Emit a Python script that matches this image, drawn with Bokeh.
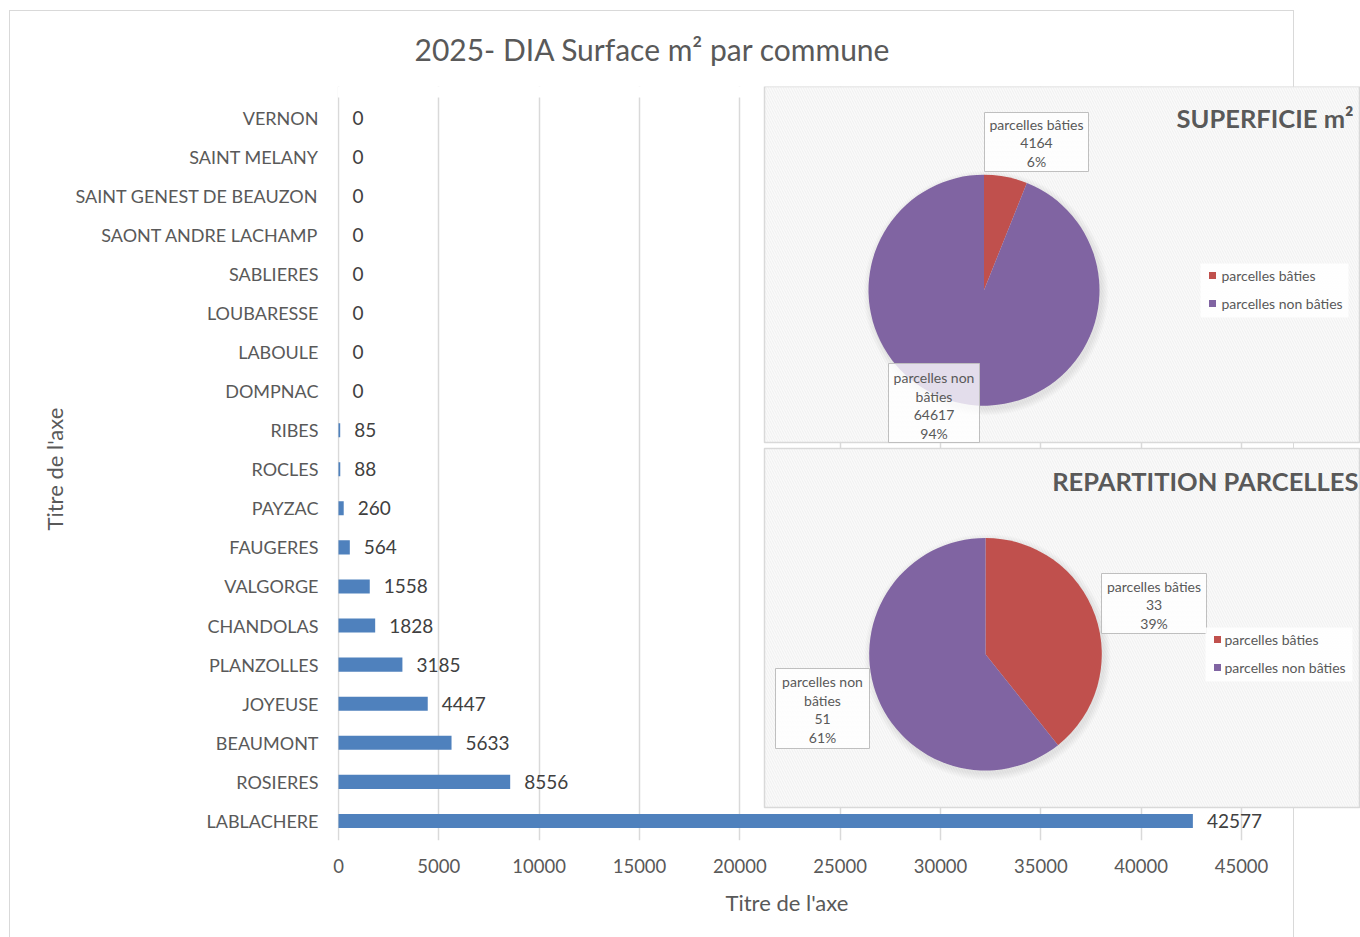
import math
import textwrap
from bokeh.plotting import figure
from bokeh.models import Range1d, FixedTicker, Label, BoxAnnotation, Title, InlineStyleSheet
from bokeh.core.properties import value
from bokeh.embed import file_html
from bokeh.resources import INLINE

# ---------------- data ----------------
communes = ["LABLACHERE", "ROSIERES", "BEAUMONT", "JOYEUSE", "PLANZOLLES",
            "CHANDOLAS", "VALGORGE", "FAUGERES", "PAYZAC", "ROCLES", "RIBES",
            "DOMPNAC", "LABOULE", "LOUBARESSE", "SABLIERES",
            "SAONT ANDRE LACHAMP", "SAINT GENEST DE BEAUZON", "SAINT MELANY",
            "VERNON"]
surfaces = [42577, 8556, 5633, 4447, 3185, 1828, 1558, 564, 260, 88, 85,
            0, 0, 0, 0, 0, 0, 0, 0]
x_ticks = [0, 5000, 10000, 15000, 20000, 25000, 30000, 35000, 40000, 45000]

chart_title = "2025- DIA Surface m² par commune"
axis_title = "Titre de l'axe"

pie_labels = ["parcelles bâties", "parcelles non bâties"]
superficie_values = [4164, 64617]
repartition_values = [33, 51]
superficie_title = "SUPERFICIE m²"
repartition_title = "REPARTITION PARCELLES"

# ---------------- style / layout ----------------
FONT = "Lato"
GREY = "#595959"
BAR_COLOR = "#4f81bd"
PIE_COLORS = ["#c0504d", "#8064a2"]
GRID_COLOR = "#d9d9d9"

W, H = 1360, 937
F_LEFT, F_RIGHT, F_TOP, F_BOTTOM = 337, 1360, 86, 840   # frame in page px
PLOT_TOP = 97                                          # top of gridlines
ZERO_X = 338
PX_PER_UNIT = 903 / 45000
BAND = 39.08

x_start = -(ZERO_X - F_LEFT) / PX_PER_UNIT
x_end = x_start + (F_RIGHT - F_LEFT) / PX_PER_UNIT
y_start = -0.5
y_end = y_start + (F_BOTTOM - F_TOP) / BAND

p = figure(width=W, height=H, output_backend="svg", toolbar_location=None,
           x_range=Range1d(x_start, x_end), y_range=Range1d(y_start, y_end),
           min_border_left=F_LEFT, min_border_right=W - F_RIGHT,
           min_border_top=F_TOP, min_border_bottom=H - F_BOTTOM)
p.outline_line_color = None
p.background_fill_color = None
p.border_fill_color = None
# decorative outer chart border, drawn behind the (transparent) canvas
p.stylesheets = [InlineStyleSheet(css="""
:host::before {
  content: ""; position: absolute; left: 9px; top: 10px;
  width: 1285px; height: 927px; box-sizing: border-box;
  border: 1.5px solid #d9d9d9; border-bottom: none;
  z-index: -1; pointer-events: none;
}
""")]

# page-pixel helper ranges for decorations
p.extra_x_ranges = {"px": Range1d(F_LEFT, F_RIGHT)}
p.extra_y_ranges = {"py": Range1d(F_BOTTOM, F_TOP)}
R = dict(x_range_name="px", y_range_name="py")

# chart title
p.title.text = chart_title
p.title.align = "left"
p.title.offset = 77
p.title.standoff = 40
p.title.text_font = FONT
p.title.text_font_size = "30px"
p.title.text_font_style = "normal"
p.title.text_color = GREY

# axes
idx = list(range(len(communes)))
p.yaxis.ticker = FixedTicker(ticks=idx)
p.yaxis.major_label_overrides = {i: c for i, c in zip(idx, communes)}
p.yaxis.axis_line_color = None
p.yaxis.major_tick_line_color = None
p.yaxis.minor_tick_line_color = None
p.yaxis.major_tick_out = 0
p.yaxis.major_label_standoff = 19
p.yaxis.major_label_text_font = FONT
p.yaxis.major_label_text_font_size = "18px"
p.yaxis.major_label_text_color = GREY

p.xaxis.ticker = FixedTicker(ticks=x_ticks)
p.xaxis.axis_line_color = None
p.xaxis.major_tick_line_color = None
p.xaxis.minor_tick_line_color = None
p.xaxis.major_tick_out = 0
p.xaxis.major_label_standoff = 18
p.xaxis.major_label_text_font = FONT
p.xaxis.major_label_text_font_size = "18.5px"
p.xaxis.major_label_text_color = GREY

p.add_layout(Title(text=axis_title, align="left", offset=388,
                   text_font=FONT, text_font_size="22px",
                   text_font_style="normal", text_color=GREY, standoff=22),
             "below")
p.add_layout(Title(text=axis_title, align="left", offset=F_BOTTOM - 530,
                   text_font=FONT, text_font_size="22px",
                   text_font_style="normal", text_color=GREY, standoff=10),
             "left")

p.ygrid.grid_line_color = None
p.xgrid.ticker = FixedTicker(ticks=x_ticks)
p.xgrid.grid_line_color = GRID_COLOR
p.xgrid.grid_line_width = 1.5

# keep the gridlines inside the plot area (white strip above the first band)
p.quad(left=[F_LEFT], right=[764], top=[F_TOP], bottom=[PLOT_TOP],
       fill_color="white", line_color=None, **R)

# bars + value labels
p.hbar(y=idx, left=0, right=surfaces, height=0.36, fill_color=BAR_COLOR,
       line_color=None)
p.text(x=surfaces, y=idx, text=[str(v) for v in surfaces], x_offset=14,
       text_align="left", text_baseline="middle", text_color="#404040",
       text_font=value(FONT), text_font_size="19px")

# ---------------- pie panels ----------------
panels = [
    dict(box=(764, 1359, 86, 442), center=(983.5, 289.7), r=115.5,
         values=superficie_values, title=superficie_title, title_y=117,
         title_x=1353,
         callouts=[(984, 1088, 112, 171, 124, 18), (888, 979, 363, 442, 377, 13)],
         legend=(1200, 1348, 263, 317, 275, 1212, 1221)),
    dict(box=(764, 1359, 448, 807), center=(985, 653.7), r=116.3,
         values=repartition_values, title=repartition_title, title_y=480,
         title_x=1358,
         callouts=[(1101, 1206, 573, 633, 586, 18), (775, 869, 668, 748, 681, 13)],
         legend=(1205, 1352, 627, 681, 639, 1217, 1224)),
]

for pan in panels:
    l, r_, t, b = pan["box"]
    p.add_layout(BoxAnnotation(left=l, right=r_, top=t, bottom=b,
                               fill_color="#fafafa", fill_alpha=1,
                               hatch_pattern="\\", hatch_color="#eeeeee",
                               hatch_scale=5, hatch_weight=0.8,
                               line_color=GRID_COLOR, line_alpha=1,
                               line_width=1.5, **R))

for pan in panels:
    cx, cy = pan["center"]
    rad = pan["r"]
    vals = pan["values"]
    total = sum(vals)
    # soft shadow
    for k in range(1, 8):
        p.circle(x=[cx + 2], y=[cy + 3], radius=rad + k, radius_units="screen",
                 fill_color="black", fill_alpha=0.012, line_color=None,
                 level="overlay", **R)
    cum = 0.0
    starts, ends = [], []
    for v in vals:
        starts.append(math.pi / 2 - 2 * math.pi * cum / total)
        cum += v
        ends.append(math.pi / 2 - 2 * math.pi * cum / total)
    p.wedge(x=[cx] * len(vals), y=[cy] * len(vals), radius=rad,
            radius_units="screen", start_angle=starts, end_angle=ends,
            direction="clock", fill_color=PIE_COLORS, line_color=None,
            level="overlay", **R)

    # callouts
    for (lab, v, (cl, cr, ct, cb, y0, wrapw)) in zip(pie_labels, vals, pan["callouts"]):
        p.quad(left=[cl], right=[cr], top=[ct], bottom=[cb], fill_color="white",
               fill_alpha=0.78, line_color="#bfbfbf", line_width=1,
               level="overlay", **R)
        lines = textwrap.wrap(lab, wrapw) + [str(v), f"{round(100 * v / total)}%"]
        p.text(x=[(cl + cr) / 2] * len(lines),
               y=[y0 + 18.5 * i for i in range(len(lines))], text=lines,
               text_align="center", text_baseline="middle", text_color=GREY,
               text_font=value(FONT), text_font_size="14px",
               level="overlay", **R)

    # legend
    ll, lr, lt, lb, ly0, sqx, tx = pan["legend"]
    p.quad(left=[ll], right=[lr], top=[lt], bottom=[lb], fill_color="white",
           fill_alpha=0.85, line_color=None, level="overlay", **R)
    ys = [ly0 + 28 * i for i in range(len(pie_labels))]
    p.rect(x=[sqx] * len(pie_labels), y=ys, width=7, height=7,
           width_units="screen", height_units="screen", fill_color=PIE_COLORS,
           line_color=None, level="overlay", **R)
    p.text(x=[tx] * len(pie_labels), y=ys, text=pie_labels, text_align="left",
           text_baseline="middle", text_color=GREY, text_font=value(FONT),
           text_font_size="14px", level="overlay", **R)

    # panel title
    p.add_layout(Label(x=pan["title_x"], y=pan["title_y"], text=pan["title"],
                       text_align="right", text_baseline="middle",
                       text_font=FONT, text_font_style="bold",
                       text_font_size="25.5px", text_color=GREY,
                       level="overlay", **R))

open("out.html", "w").write(file_html(p, INLINE))
